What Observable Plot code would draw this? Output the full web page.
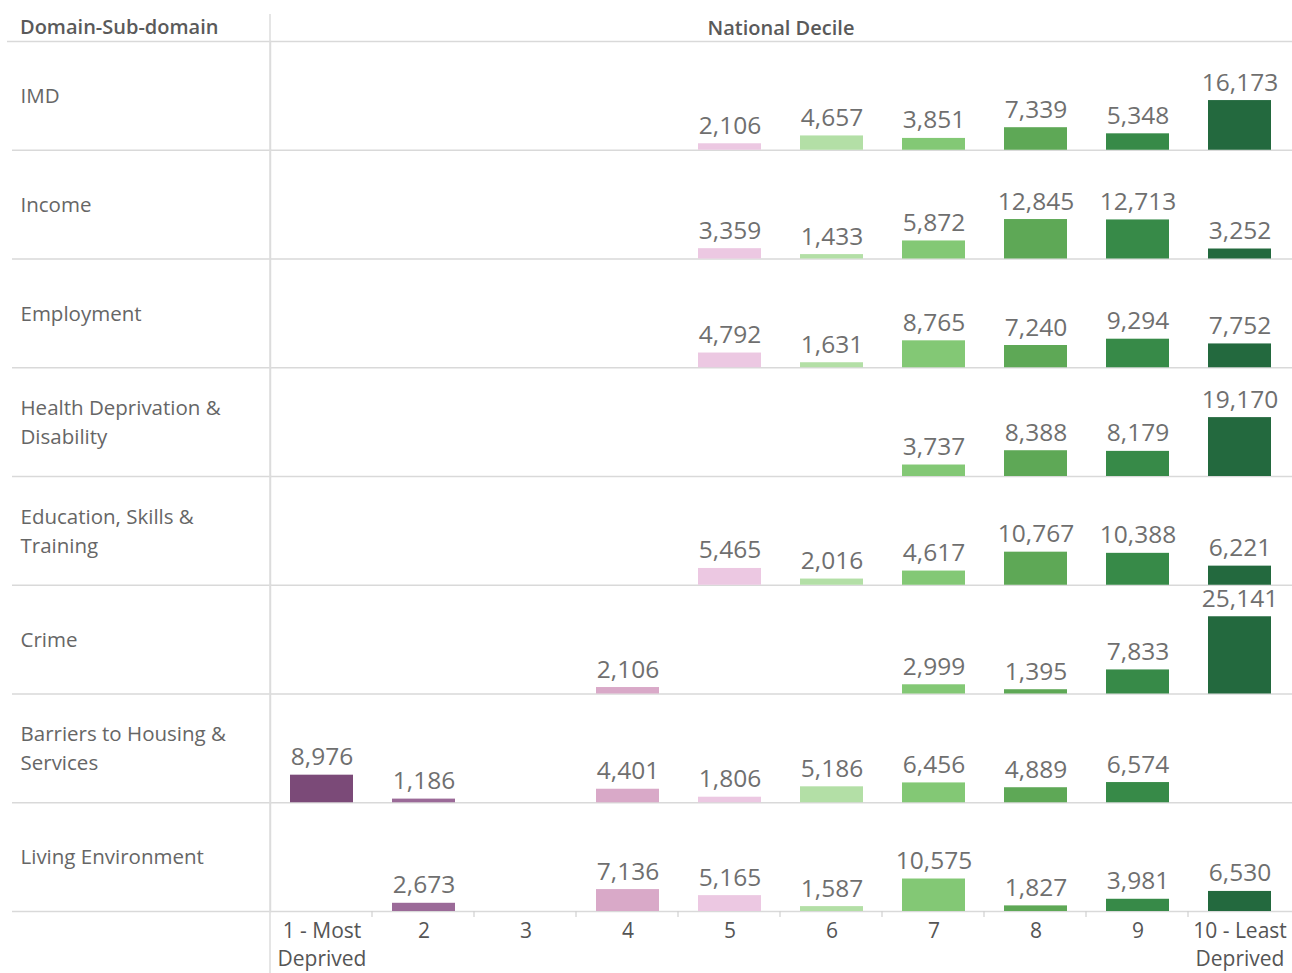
<!DOCTYPE html>
<html>
<head>
<meta charset="utf-8">
<script src="https://cdn.jsdelivr.net/npm/d3@7"></script>
<script src="https://cdn.jsdelivr.net/npm/@observablehq/plot@0.6"></script>
<style>
  html, body { margin: 0; padding: 0; background: #fff; }
  #chart svg { display: block; }
</style>
</head>
<body>
<div id="chart"></div>
<script>
// ---- data ----
const deciles = ["1","2","3","4","5","6","7","8","9","10"];
const decileLabels = ["1 - Most\nDeprived","2","3","4","5","6","7","8","9","10 - Least\nDeprived"];
const domains = [
  "IMD",
  "Income",
  "Employment",
  "Health Deprivation & Disability",
  "Education, Skills & Training",
  "Crime",
  "Barriers to Housing & Services",
  "Living Environment"
];
const domainLabels = [
  "IMD",
  "Income",
  "Employment",
  "Health Deprivation &\nDisability",
  "Education, Skills &\nTraining",
  "Crime",
  "Barriers to Housing &\nServices",
  "Living Environment"
];
const imd        = [null, null, null, null, 2106, 4657, 3851, 7339, 5348, 16173];
const income     = [null, null, null, null, 3359, 1433, 5872, 12845, 12713, 3252];
const employment = [null, null, null, null, 4792, 1631, 8765, 7240, 9294, 7752];
const health     = [null, null, null, null, null, null, 3737, 8388, 8179, 19170];
const education  = [null, null, null, null, 5465, 2016, 4617, 10767, 10388, 6221];
const crime      = [null, null, null, 2106, null, null, 2999, 1395, 7833, 25141];
const barriers   = [8976, 1186, null, 4401, 1806, 5186, 6456, 4889, 6574, null];
const living     = [null, 2673, null, 7136, 5165, 1587, 10575, 1827, 3981, 6530];
const seriesByDomain = [imd, income, employment, health, education, crime, barriers, living];

const decileColors = ["#7b4a78","#9b6a98","#c490b6","#d9a9c8","#ecc8e2","#b3dfa6","#83c875","#5ea856","#378a48","#23693e"];

// table built from the arrays
const data = [];
domains.forEach((dom, i) => {
  seriesByDomain[i].forEach((v, j) => {
    if (v != null) data.push({domain: dom, decile: deciles[j], value: v});
  });
});

const W = 1292, H = 973, ML = 270, MT = 41, MB = 62;
const yMax = 35400;
const labelOf = new Map(domains.map((d, i) => [d, domainLabels[i]]));
const xLabelOf = new Map(deciles.map((d, i) => [d, decileLabels[i]]));

const chart = Plot.plot({
  width: W,
  height: H,
  marginLeft: ML,
  marginRight: 0,
  marginTop: MT,
  marginBottom: MB,
  style: {fontFamily: "'Open Sans', sans-serif", fontSize: "20px", color: "#666", background: "#fff"},
  fy: {domain: domains, padding: 0, round: false, axis: null},
  x: {domain: deciles, paddingInner: 0.38, paddingOuter: 0.19, axis: null},
  y: {domain: [0, yMax], axis: null},
  color: {domain: deciles, range: decileColors},
  marks: [
    Plot.ruleY([0], {stroke: "#d9d9d9", strokeWidth: 1.5, insetLeft: -258}),
    Plot.ruleY([{fy: domains[0], y: yMax}], {y: "y", fy: "fy", stroke: "#d9d9d9", strokeWidth: 1.5, insetLeft: -263}),
    Plot.frame({anchor: "left", stroke: "#dcdcdc", strokeWidth: 1.5}),
    Plot.barY(data, {x: "decile", y: "value", fy: "domain", fill: "decile"}),
    Plot.text(data, {
      x: "decile", y: "value", fy: "domain",
      text: d => d3.format(",")(d.value),
      lineAnchor: "bottom", dy: -10,
      fill: "#6f6f6f", fontSize: 24.5
    }),
    Plot.axisFy({
      anchor: "left", tickSize: 0, tickPadding: 0, textAnchor: "start", dx: -250, dy: -2,
      label: null, fontSize: 20.5, lineHeight: 1.42, fill: "#666",
      tickFormat: d => labelOf.get(d)
    }),
    Plot.axisX({
      anchor: "bottom", tickSize: 0, tickPadding: 6, label: null,
      fontSize: 21, lineHeight: 1.36, fill: "#555",
      tickFormat: d => xLabelOf.get(d)
    })
  ]
});

document.getElementById("chart").appendChild(chart);

// ---- table decorations (header texts, vertical divider, column ticks) ----
const svg = d3.select(chart);
const xs = chart.scale("x");
const step = xs.step;
const x0 = xs.range[0];
svg.append("line")
  .attr("x1", ML).attr("x2", ML).attr("y1", 14).attr("y2", H)
  .attr("stroke", "#dcdcdc").attr("stroke-width", 1.5);
svg.append("g").selectAll("line")
  .data(deciles.slice(1))
  .join("line")
  .attr("x1", (d, i) => x0 + step * (i + 1))
  .attr("x2", (d, i) => x0 + step * (i + 1))
  .attr("y1", H - MB).attr("y2", H - MB + 6)
  .attr("stroke", "#d0d0d0").attr("stroke-width", 1.2);
svg.append("text")
  .attr("x", 20).attr("y", 34)
  .attr("text-anchor", "start")
  .attr("fill", "#5a5a5a").attr("font-size", 20).attr("font-weight", 600)
  .text("Domain-Sub-domain");
svg.append("text")
  .attr("x", (ML + W) / 2).attr("y", 35)
  .attr("text-anchor", "middle")
  .attr("fill", "#5a5a5a").attr("font-size", 20).attr("font-weight", 600)
  .text("National Decile");
</script>
</body>
</html>
